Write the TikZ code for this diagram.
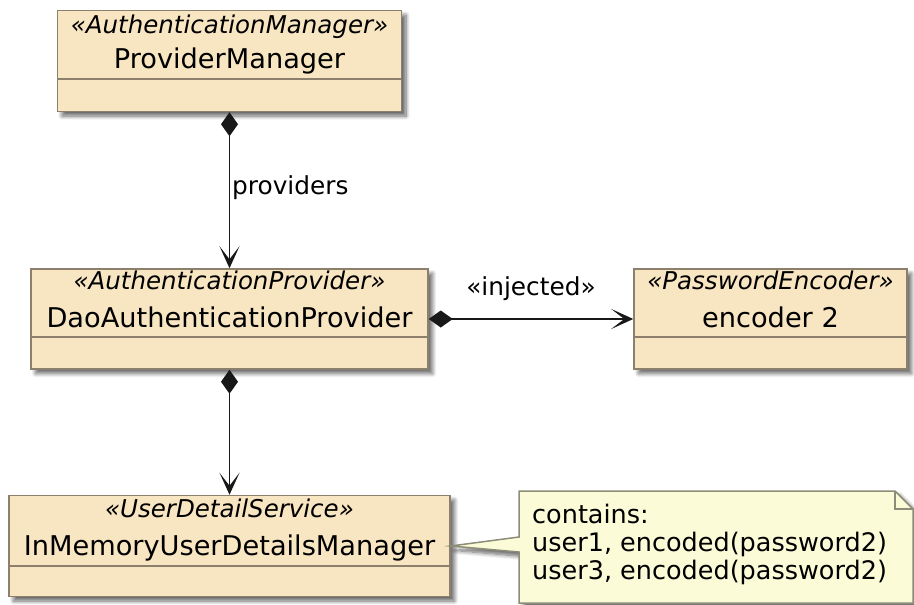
\documentclass[tikz,border=0pt]{standalone}
\usepackage{fontspec}
\setmainfont{DejaVu Sans}
\usetikzlibrary{arrows.meta,shadows.blur}

\definecolor{classfill}{RGB}{248,229,193}
\definecolor{classline}{RGB}{140,128,108}
\definecolor{notefill}{RGB}{251,251,216}
\definecolor{noteline}{RGB}{140,140,120}
\definecolor{wire}{RGB}{24,24,24}

\tikzset{
  softshadow/.style={blur shadow={shadow xshift=4.5pt, shadow yshift=-4.5pt,
      shadow blur steps=8, shadow blur radius=4pt, shadow opacity=60}},
  classbox/.style={draw=classline, fill=classfill, line width=1.5pt,
      rectangle, inner sep=0pt, softshadow},
  stereo/.style={anchor=base, inner sep=0pt,
      font=\fontsize{24.5}{28}\selectfont\itshape},
  cname/.style={anchor=base, inner sep=0pt,
      font=\fontsize{27.2}{30}\selectfont},
  divider/.style={draw=classline, line width=1.5pt},
  link/.style={draw=wire, line width=1.8pt,
      {Diamond[length=24pt,width=17pt]}-{Stealth[length=22pt,width=20pt,inset=13pt]}},
  lbl/.style={inner sep=0pt, anchor=base, font=\fontsize{24.8}{28}\selectfont},
  notebody/.style={draw=noteline, fill=notefill, line width=1.5pt, softshadow},
  notetext/.style={inner sep=0pt, anchor=base west,
      font=\fontsize{25.5}{28}\selectfont},
}

\begin{document}
\begin{tikzpicture}[x=1pt, y=-1pt]
  \useasboundingbox (0,0) rectangle (914,605);

  % ProviderManager
  \node[classbox, minimum width=344pt, minimum height=101pt] (pm) at (229.5,61) {};
  \node[stereo] (pmS) at (229.5,33) {«AuthenticationManager»};
  \node[cname]  (pmN) at (229.5,68) {ProviderManager};
  \draw[divider] (57.5,79) -- (401.5,79);

  % DaoAuthenticationProvider
  \node[classbox, minimum width=397pt, minimum height=100pt] (dap) at (229.5,319) {};
  \node[stereo] (dapS) at (229.5,289) {«AuthenticationProvider»};
  \node[cname]  (dapN) at (229.5,327) {DaoAuthenticationProvider};
  \draw[divider] (31,337) -- (428,337);

  % encoder 2
  \node[classbox, minimum width=273pt, minimum height=100pt] (enc) at (770.5,319) {};
  \node[stereo] (encS) at (770.5,289) {«PasswordEncoder»};
  \node[cname]  (encN) at (770.5,327) {encoder 2};
  \draw[divider] (634,337) -- (907,337);

  % InMemoryUserDetailsManager
  \node[classbox, minimum width=441pt, minimum height=101pt] (imu) at (229.5,546) {};
  \node[stereo] (imuS) at (229.5,517) {«UserDetailService»};
  \node[cname]  (imuN) at (229.5,555) {InMemoryUserDetailsManager};
  \draw[divider] (9,566) -- (450,566);

  % associations
  \draw[link] (pm.south) -- (dap.north);
  \node[lbl, anchor=base west] (provL) at (232,194) {providers};
  \draw[link] (dap.east) -- (enc.west);
  \node[lbl] (injL) at (531,295) {«injected»};
  \draw[link] (dap.south) -- (imu.north);

  % note attached to InMemoryUserDetailsManager
  \path[notebody] (519,491) -- (895,491) -- (913,509) -- (913,603)
      -- (519,603) -- (519,552) -- (imu.east) -- (519,537) -- cycle;
  \draw[draw=noteline, line width=1.5pt] (895,491) -- (895,509) -- (913,509);
  \node[notetext] (note1) at (532,523) {contains:};
  \node[notetext] (note2) at (532,551) {user1, encoded(password2)};
  \node[notetext] (note3) at (532,579) {user3, encoded(password2)};
\end{tikzpicture}
\end{document}
